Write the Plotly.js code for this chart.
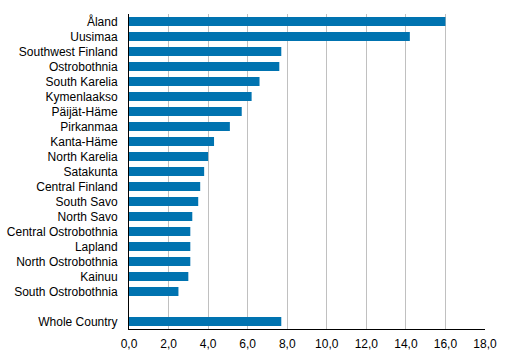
<!DOCTYPE html>
<html>
<head>
<meta charset="utf-8">
<script src="https://cdn.plot.ly/plotly-3.0.1.min.js"></script>
<style>html,body{margin:0;padding:0;background:#fff;}#chart{width:512px;height:359px;}</style>
</head>
<body>
<div id="chart"></div>
<script>
const regions = ["Åland","Uusimaa","Southwest Finland","Ostrobothnia","South Karelia","Kymenlaakso","Päijät-Häme","Pirkanmaa","Kanta-Häme","North Karelia","Satakunta","Central Finland","South Savo","North Savo","Central Ostrobothnia","Lapland","North Ostrobothnia","Kainuu","South Ostrobothnia"," ","Whole Country"];
const values = [16.0,14.2,7.7,7.6,6.6,6.2,5.7,5.1,4.3,4.0,3.8,3.6,3.5,3.2,3.1,3.1,3.1,3.0,2.5,null,7.7];
const xTicks = [0,2,4,6,8,10,12,14,16,18];

Plotly.newPlot('chart', [{
  type: 'bar',
  orientation: 'h',
  y: regions,
  x: values,
  marker: {color: '#0073b0'},
  width: 0.6,
  hoverinfo: 'none'
}], {
  width: 512, height: 359,
  margin: {l: 129, r: 27, t: 14, b: 30},
  paper_bgcolor: '#fff', plot_bgcolor: '#fff',
  separators: ',.',
  font: {family: 'Liberation Sans, Arial, sans-serif', size: 12, color: '#000'},
  showlegend: false,
  bargap: 0.4,
  xaxis: {
    range: [0, 18],
    tickvals: xTicks,
    tickformat: '.1f',
    showgrid: true, gridcolor: '#c0c0c0', gridwidth: 1,
    zeroline: false,
    showline: true, linecolor: '#000', linewidth: 1,
    ticks: '', ticklabelstandoff: 4,
    fixedrange: true
  },
  yaxis: {
    type: 'category',
    categoryorder: 'array', categoryarray: regions,
    autorange: 'reversed',
    showgrid: false, zeroline: false,
    showline: true, linecolor: '#000', linewidth: 1,
    ticks: '', ticklabelstandoff: 8,
    fixedrange: true
  }
}, {staticPlot: true});
</script>
</body>
</html>
